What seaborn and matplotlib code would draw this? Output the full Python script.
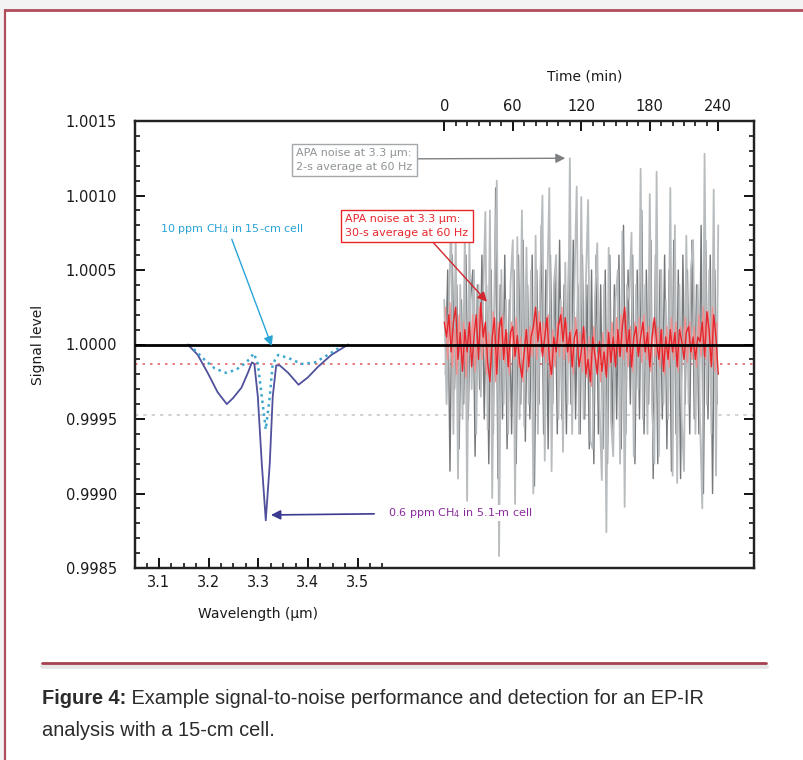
"""EP-IR signal-to-noise figure: CH4 spectra vs APA noise traces."""
import numpy as np
import matplotlib
matplotlib.use("Agg")
import matplotlib.pyplot as plt
from matplotlib import font_manager
from matplotlib.patches import Rectangle
from matplotlib.lines import Line2D
from matplotlib.ticker import FixedLocator, MultipleLocator
import seaborn as sns

# ---- data ----
# 0.6 ppm CH4 in 5.1-m cell (solid)
wl_5m = [3.158, 3.178, 3.198, 3.218, 3.2365, 3.249, 3.266, 3.279, 3.287, 3.292, 3.299, 3.307,
         3.315, 3.323, 3.329, 3.336, 3.343, 3.360, 3.381, 3.400, 3.420, 3.447, 3.481]
sig_5m = [1.0, 0.99993, 0.99981, 0.99968, 0.99960, 0.99964, 0.99971, 0.99981, 0.99988, 0.99987,
          0.99965, 0.99920, 0.99882, 0.99920, 0.99965, 0.99986, 0.99986, 0.99981, 0.99973,
          0.99978, 0.99985, 0.99993, 1.0]
# 10 ppm CH4 in 15-cm cell (dotted)
wl_15cm = [3.161, 3.191, 3.212, 3.235, 3.255, 3.276, 3.291, 3.299, 3.307, 3.315, 3.323, 3.329,
           3.340, 3.360, 3.387, 3.414, 3.440, 3.474]
sig_15cm = [1.0, 0.99990, 0.99984, 0.99981, 0.99983, 0.99988, 0.99994, 0.99987, 0.99965, 0.99943,
            0.99965, 0.99987, 0.99993, 0.99991, 0.99987, 0.99988, 0.99993, 1.0]

level_2s = 0.99953   # grey dotted line
level_30s = 0.99987  # red dotted line

# noise traces, deviation from 1.0 in units of 1e-4
t_even = list(range(0, 241, 2))
t_odd = list(range(1, 240, 2))
grey_light = [3, -4, 2, 9, -6, 7.5, -9, 4, -5, 7.5, -10.5, 6.8, -3, 5, -6, 4, -3.5, 3, 8.9, -5.7,
              9, -10.3, 4, 11, -14.2, 5, -4, 3, -6, 4, 7, -10.7, 7.2, -5, 9, -5.5, 6.5, -4, 5, -10,
              7.3, -6, 4, 10, -7.8, 3, 10.5, -8.5, 4, 6, -5, 3, -7.2, 5.5, -4, 12.5, -6, 4, 10.6, -6,
              9.9, -5, 4, 9.7, -6.5, -7, 3, 6.8, -4, -9.1, 4, -12.6, 6.5, -5, -7.5, 3, 5, -8, 7.6,
              -10.9, 4, 3, 7.5, -7.5, 4, -3, 11.8, -5, 4, -6, 10.1, -4, -8, 11.6, -7.5, 5, -4, 3, -5,
              10.5, -8.8, 8, -9.3, 4, -5, -8.5, 7.3, -4, 5, 7, -6, 4, -5, -11, 12.8, -4, 5, -6,
              10.4, -8.8, 8]
grey_dark = [-2, 5, -8.5, 6, -3, 4, -7, 3, -4, 6, -5, 3, 5, -7.5, 4, -3, 6, -5, 4, -8, 5, -6,
             10.5, -9, 4, -5, 6, -7, 3, -6, 5, -8, 6, -4, 7, -6.5, 4, -5, 6, -9.5, 5, -4, 8, -6, 5,
             -7, 6, -4, 5, -6, 7, -5, 4, -6, 6, -4, 7, -5, 4, -6, 6, -5, 4, -7, 5, -8, 6, -6, 4, -7,
             5, -8, 6, -6, 4, -5, 6, -7, 8, -6, 5, -4, 6, -8, 5, -5, 9, -6, 5, -4, 7, -9, 6, -8, 5,
             -5, 6, -7, 5, -8.5, 7, -6, 5, -9, 6, -4, 5, -6, 7, -5, 4, -6, 8, -10, 7, -5, 6, -10, 5,
             -4]
red_30s = [1.5, 0.5, 2, -0.5, 1.5, 2.5, -1, 0.8, -1.8, 1, -0.5, 1.5, -1.5, 0.5, 2, -1, 2.8, 0.5,
           1.5, -1.2, -2.5, 0.5, 1.8, -2, 1, 1.8, -1, 1, -1.5, 0.8, 1.2, -0.8, 0.6, -1.2, -2.2,
           -0.5, 1, -1.5, 0.5, 1.2, 2.5, 0.2, 1.5, -0.8, 0.5, 1.8, -1, -2, 0.5, -0.5, 1.2, 2, 0.2,
           1.8, -0.5, 0.8, -1.5, 0.5, 1, -1.5, -0.5, 1.2, -2, -1, -2.5, 0.5, -0.8, -2, 0.2, -1.8,
           -0.5, -2.2, 0.8, -1.2, 0.5, -1.5, 1, -0.8, 1.2, 2.5, -0.5, 1, -1.5, 0.5, 1.2, -0.8, 0.5,
           1.5, -0.5, 0.8, -1.5, 0.5, 1.8, 0.2, -1, 1, -1.8, 0.5, -1, 1, -0.5, 0.8, -1.5, 1, 0.2,
           -1, 0.8, 1.2, -0.5, 0.5, -1, 0.5, 0.2, 1.5, -0.8, 2.2, 1, -1.5, 2, 0.5, -2]
pink_30s = [2.5, -1, 2.8, -1.5, 1, -2, 2, -1.2, 1.5, -2.2, 1.2, -0.8, 2, -1.8, 1, 2.5, -1, 1.2,
            -2, 0.8, -1.5, 2.2, -2.5, 1.5, -1, 2, -1.2, 0.8, -2, 1.5, -1, 1.8, -1.5, 0.5, -2.5, 1,
            -1.8, 1.2, -0.8, 2, -1, 2.2, -0.5, 1.5, -1.2, 2, -2.2, 1, -1.5, 1.5, -0.8, 2.5, -1, 1.5,
            -1.2, 1, -2, 1.8, -1, 0.8, -1.8, 1, -2.2, 0.5, -2.8, 1.2, -1.5, -0.5, -2.5, 0.8, -2, 1,
            -1.5, 1.5, -1.2, 1.8, -0.8, 2, -1, 2.2, -1.5, 1.2, -1.8, 1.5, -0.5, 1.8, -1.2, 2, -1,
            1.2, -1.8, 1.5, -0.8, 1.2, -1.5, 1, -2, 1.2, -1.5, 1.8, -1, 1.5, -1.8, 1.2, -0.5, 1.8,
            -1.2, 1.5, -1, 1.2, -1.5, 2, -0.8, 2.5, -1, 2.2, -1.2, 2.5, -1.8, 1.5]

wl_ticks = [3.1, 3.2, 3.3, 3.4, 3.5]
time_ticks = [0, 60, 120, 180, 240]
sig_ticks = [0.9985, 0.9990, 0.9995, 1.0000, 1.0005, 1.0010, 1.0015]

W, H = 804, 760


def fig_xy(x, y):
    """pixel position (from top-left) -> figure fraction"""
    return x / W, 1 - y / H


sns.set_style("ticks")
plt.rcParams['font.family'] = ['DejaVu Sans']
available = {f.name for f in font_manager.fontManager.ttflist}
cap_font = 'Liberation Sans Narrow' if 'Liberation Sans Narrow' in available else 'Liberation Sans'
cap_size = 16.5 if cap_font == 'Liberation Sans Narrow' else 14.4

fig = plt.figure(figsize=(W / 100, H / 100), dpi=100)
fig.patch.set_facecolor('#f3f3f3')
# page frame
fig.add_artist(Rectangle(fig_xy(5, 760), 1, 750 / H, transform=fig.transFigure,
                         facecolor='white', edgecolor='none', zorder=-10))
frame_c = '#b24c5c'
fig.add_artist(Line2D([5 / W, 1], [1 - 10 / H] * 2, color=frame_c, lw=2))
fig.add_artist(Line2D([5 / W] * 2, [0, 1 - 10 / H], color=frame_c, lw=1.6))
fig.add_artist(Line2D([42 / W, 766 / W], [1 - 666 / H] * 2, color='#e6e6e6', lw=3.5))
fig.add_artist(Line2D([42 / W, 766 / W], [1 - 663 / H] * 2, color='#a6414f', lw=2))

ax = fig.add_axes([135 / W, 1 - 568 / H, 619 / W, 447 / H])
ax2 = ax.twiny()

# spectra on the wavelength axis
sns.lineplot(x=wl_5m, y=sig_5m, ax=ax, color='#50509c', lw=1.3, sort=False)
sns.lineplot(x=wl_15cm, y=sig_15cm, ax=ax, color='#3fa6cc', lw=1.8,
             linestyle=(0, (1, 1.6)), sort=False)
ax.axhline(level_30s, color='#e46a6a', lw=1.2, ls=(0, (1.5, 3)), zorder=1)
ax.axhline(level_2s, color='#c9cbcc', lw=1.2, ls=(0, (2, 3)), zorder=1)

# noise traces on the time axis
dev = lambda v: 1 + np.array(v) * 1e-4
sns.lineplot(x=t_odd, y=dev(grey_dark), ax=ax2, color='#74777a', lw=1.0)
sns.lineplot(x=t_even, y=dev(grey_light), ax=ax2, color='#b8bcbe', lw=1.3)
sns.lineplot(x=t_odd, y=dev(pink_30s), ax=ax2, color='#f29090', lw=1.0)
sns.lineplot(x=t_even, y=dev(red_30s), ax=ax2, color='#e6262c', lw=1.0)
ax2.axhline(1.0, color='black', lw=2, zorder=5)

ax.set_xlim(3.0517, 4.298)
ax.set_ylim(0.9985, 1.0015)
ax2.set_xlim(-270.9, 271.3)
ax2.set_ylim(0.9985, 1.0015)

# ticks
ax.set_xticks(wl_ticks)
ax.set_xticklabels([f"{v:.1f}" for v in wl_ticks])
ax.xaxis.set_minor_locator(FixedLocator([3.075 + 0.025 * i for i in range(20)]))
ax.set_yticks(sig_ticks)
ax.set_yticklabels([f"{v:.4f}" for v in sig_ticks])
ax.yaxis.set_minor_locator(MultipleLocator(0.0001))
ax.tick_params(which='both', direction='in', top=False, right=True, labelright=False,
               colors='black', labelcolor='#1a1a1a')
ax.tick_params(which='major', length=7, width=1.3, labelsize=10.5)
ax.tick_params(which='minor', length=3.5, width=1.1)
ax.tick_params(axis='y', which='major', pad=13)
ax.tick_params(axis='x', which='major', pad=5)

ax2.set_xticks(time_ticks)
ax2.set_xticklabels([str(v) for v in time_ticks])
ax2.xaxis.set_minor_locator(FixedLocator(list(range(0, 241, 10))))
ax2.tick_params(which='both', direction='in', colors='black', labelcolor='#1a1a1a')
ax2.tick_params(which='major', length=7, width=1.3, labelsize=10.5, pad=5)
ax2.tick_params(which='minor', length=3.5, width=1.1)

for a in (ax, ax2):
    for s in a.spines.values():
        s.set_linewidth(1.6)
        s.set_color('#222222')
    a.set_xlabel('')
    a.set_ylabel('')

fig.text(*fig_xy(38, 345), 'Signal level', rotation=90, ha='center', va='center',
         fontsize=10, color='#1a1a1a')
fig.text(*fig_xy(258, 614), 'Wavelength (µm)', ha='center', va='center',
         fontsize=10, color='#1a1a1a')
fig.text(*fig_xy(585, 77), 'Time (min)', ha='center', va='center',
         fontsize=10, color='#1a1a1a')

# annotations
arrow = dict(arrowstyle='-|>', lw=1, mutation_scale=14, shrinkA=0, shrinkB=0)
cyan = '#2aa4d6'
ax2.annotate('10 ppm CH$_4$ in 15-cm cell', xy=(3.327, 0.99999), xycoords=ax.transData,
             xytext=fig_xy(232, 229), textcoords='figure fraction', ha='center', va='center',
             fontsize=8, color=cyan, zorder=8,
             arrowprops=dict(arrow, color=cyan, relpos=(0.49, 0.0)))
ax2.annotate('0.6 ppm CH$_4$ in 5.1-m cell', xy=(3.3255, 0.998856), xycoords=ax.transData,
             xytext=fig_xy(388, 513), textcoords='figure fraction', ha='left', va='center',
             fontsize=8, color='#8a2a9c', zorder=8,
             bbox=dict(fc='white', ec='none', pad=1),
             arrowprops=dict(arrow, color='#3a3a90', lw=1.2, relpos=(0, 0.45), shrinkA=9))
ax2.annotate('APA noise at 3.3 µm:\n2-s average at 60 Hz', xy=(106, 1.00125),
             xytext=fig_xy(296, 160), textcoords='figure fraction', ha='left', va='center',
             fontsize=8, color='#8f9496', linespacing=1.4, zorder=8,
             bbox=dict(fc='white', ec='#a3a7a9', lw=1, boxstyle='square,pad=0.4'),
             arrowprops=dict(arrow, color='#7d8082', relpos=(1, 0.55)))
ax2.annotate('APA noise at 3.3 µm:\n30-s average at 60 Hz', xy=(37.4, 1.000287),
             xytext=fig_xy(345, 226), textcoords='figure fraction', ha='left', va='center',
             fontsize=8, color='#e8272c', linespacing=1.4, zorder=8,
             bbox=dict(fc='white', ec='#e8272c', lw=1, boxstyle='square,pad=0.4'),
             arrowprops=dict(arrow, color='#d0282e', relpos=(0.68, 0)))

# caption
bold = fig.text(*fig_xy(42, 708), 'Figure 4:', fontsize=cap_size, fontweight='bold',
                family=cap_font, color='#2b2b2b', va='bottom')
ax.annotate(' Example signal-to-noise performance and detection for an EP-IR',
            xy=(1, 0), xycoords=bold, va='bottom', ha='left', fontsize=cap_size,
            family=cap_font, color='#2b2b2b', annotation_clip=False)
fig.text(*fig_xy(42, 740), 'analysis with a 15-cm cell.', fontsize=cap_size,
         family=cap_font, color='#2b2b2b', va='bottom')

fig.savefig('out.png', dpi=100, facecolor=fig.get_facecolor())
